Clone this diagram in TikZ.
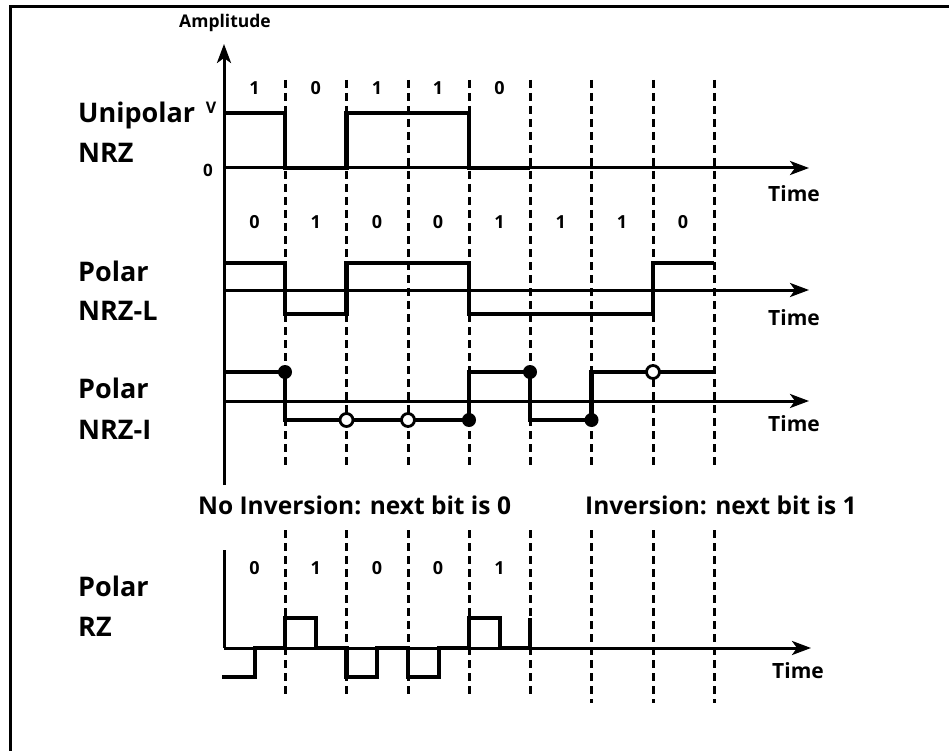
\documentclass[tikz,border=0pt]{standalone}
\usepackage{fontspec}
\setmainfont{Open Sans}
\usetikzlibrary{arrows.meta}
\tikzset{
  wave/.style={line width=4.6pt},
  axisline/.style={line width=3pt},
  axarrow/.style={axisline,-{Stealth[length=19pt,width=14pt,inset=5pt]}},
  gridline/.style={line width=3pt, dash pattern=on 8pt off 5pt},
  lbl/.style={font=\fontsize{27}{32}\selectfont\bfseries, anchor=base west, inner sep=0pt},
  bitlbl/.style={font=\fontsize{18}{20}\selectfont\bfseries, inner sep=0pt},
  timelbl/.style={font=\fontsize{21}{26}\selectfont\bfseries, anchor=base west, inner sep=0pt},
  notelbl/.style={font=\fontsize{24.5}{28}\selectfont\bfseries, anchor=base west, inner sep=0pt},
  fdot/.style={circle, fill=black, inner sep=0pt, minimum size=14pt},
  odot/.style={circle, draw=black, fill=white, line width=2.8pt, inner sep=0pt, minimum size=13pt}
}
\begin{document}
\begin{tikzpicture}[x=1pt,y=-1pt]
\useasboundingbox (0,0) rectangle (949,751);
% frame (top and left edges only)
\coordinate (fA) at (10,751);
\coordinate (fC) at (10,7);
\coordinate (fB) at (949,7);
\draw[line width=3pt] (fA) -- (fC) -- (fB);

% dashed bit boundaries, upper block
\foreach \i/\x in {1/285,2/346.5,3/408,4/469,5/530,6/591.5,7/653,8/714}{
  \coordinate (gt\i) at (\x,80);
  \coordinate (gb\i) at (\x,467);
  \draw[gridline] (gt\i) -- (gb\i);
}
% dashed bit boundaries, lower block
\foreach \i/\x/\e in {1/285/695,2/346.5/695,3/408/695,4/469/695,5/530/695,6/591.5/703,7/653/703,8/714/703}{
  \coordinate (ht\i) at (\x,530);
  \coordinate (hb\i) at (\x,\e);
  \draw[gridline] (ht\i) -- (hb\i);
}

% vertical amplitude axis
\coordinate (yB) at (224,485);
\coordinate (yT) at (224,44);
\draw[axarrow] (yB) -- (yT);
\node[font=\fontsize{17.5}{20}\selectfont\bfseries, inner sep=0pt] (amp) at (225,23) {Amplitude};

% ---------------- Unipolar NRZ ----------------
\coordinate (u0) at (224,168);
\coordinate (uE) at (809,168);
\draw[axarrow] (u0) -- (uE);
\node[lbl] (uniA) at (78,123) {Unipolar};
\node[lbl] (uniB) at (78,163) {NRZ};
\node[bitlbl,font=\fontsize{16}{18}\selectfont\bfseries] (vlab) at (211,108) {V};
\node[bitlbl,font=\fontsize{17}{18}\selectfont\bfseries] (zlab) at (208,170) {0};
\node[timelbl] (t1) at (768,202) {Time};
\foreach \b/\x [count=\k] in {1/254.5,0/315.7,1/377,1/438,0/499.5}{
  \node[bitlbl] (ub\k) at (\x,88) {\b};
}
\draw[wave] (224,113) -- (285,113) -- (285,168) -- (346.5,168) -- (346.5,113)
  -- (469,113) -- (469,168) -- (530,168);

% ---------------- Polar NRZ-L ----------------
\coordinate (l0) at (224,290);
\coordinate (lE) at (809,290);
\draw[axarrow] (l0) -- (lE);
\node[lbl] (plA) at (78,281) {Polar};
\node[lbl] (plB) at (78,320) {NRZ-L};
\node[timelbl] (t2) at (768,325) {Time};
\foreach \b/\x [count=\k] in {0/254.5,1/315.7,0/377,0/438,1/499.5,1/560.7,1/622,0/683}{
  \node[bitlbl] (lb\k) at (\x,222) {\b};
}
\draw[wave] (224,263) -- (285,263) -- (285,314) -- (346.5,314) -- (346.5,263)
  -- (469,263) -- (469,314) -- (653,314) -- (653,263) -- (714,263);

% ---------------- Polar NRZ-I ----------------
\coordinate (i0) at (224,401);
\coordinate (iE) at (809,401);
\draw[axarrow] (i0) -- (iE);
\node[lbl] (piA) at (78,398) {Polar};
\node[lbl] (piB) at (78,439) {NRZ-I};
\node[timelbl] (t3) at (768,431) {Time};
\draw[wave] (224,372) -- (285,372) -- (285,420) -- (469,420) -- (469,372)
  -- (530,372) -- (530,420) -- (591.5,420) -- (591.5,372) -- (714,372);
\node[fdot] (d1) at (285,372) {};
\node[odot] (d2) at (346.5,420) {};
\node[odot] (d3) at (408,420) {};
\node[fdot] (d4) at (469,420) {};
\node[fdot] (d5) at (530,372) {};
\node[fdot] (d6) at (591.5,420) {};
\node[odot] (d7) at (653,372) {};

% notes
\node[notelbl] (n1) at (198,514) {No Inversion: next bit is 0};
\node[notelbl] (n2) at (585,514) {Inversion: next bit is 1};

% ---------------- Polar RZ ----------------
\coordinate (rB) at (224,648);
\coordinate (rT) at (224,550);
\draw[axisline] (rB) -- (rT);
\coordinate (r0) at (224,648);
\coordinate (rE) at (811,648);
\draw[axarrow] (r0) -- (rE);
\node[lbl] (prA) at (78,596) {Polar};
\node[lbl] (prB) at (78,636) {RZ};
\node[timelbl] (t4) at (772,678) {Time};
\foreach \b/\x [count=\k] in {0/254.5,1/315.7,0/377,0/438,1/499.5}{
  \node[bitlbl] (rb\k) at (\x,568) {\b};
}
\draw[wave] (222,677) -- (255,677) -- (255,648) -- (285,648) -- (285,618)
  -- (316,618) -- (316,648) -- (346.5,648) -- (346.5,677) -- (377,677)
  -- (377,648) -- (408,648) -- (408,677) -- (439,677) -- (439,648)
  -- (469,648) -- (469,618) -- (500,618) -- (500,648) -- (530,648) -- (530,618);
\end{tikzpicture}
\end{document}
